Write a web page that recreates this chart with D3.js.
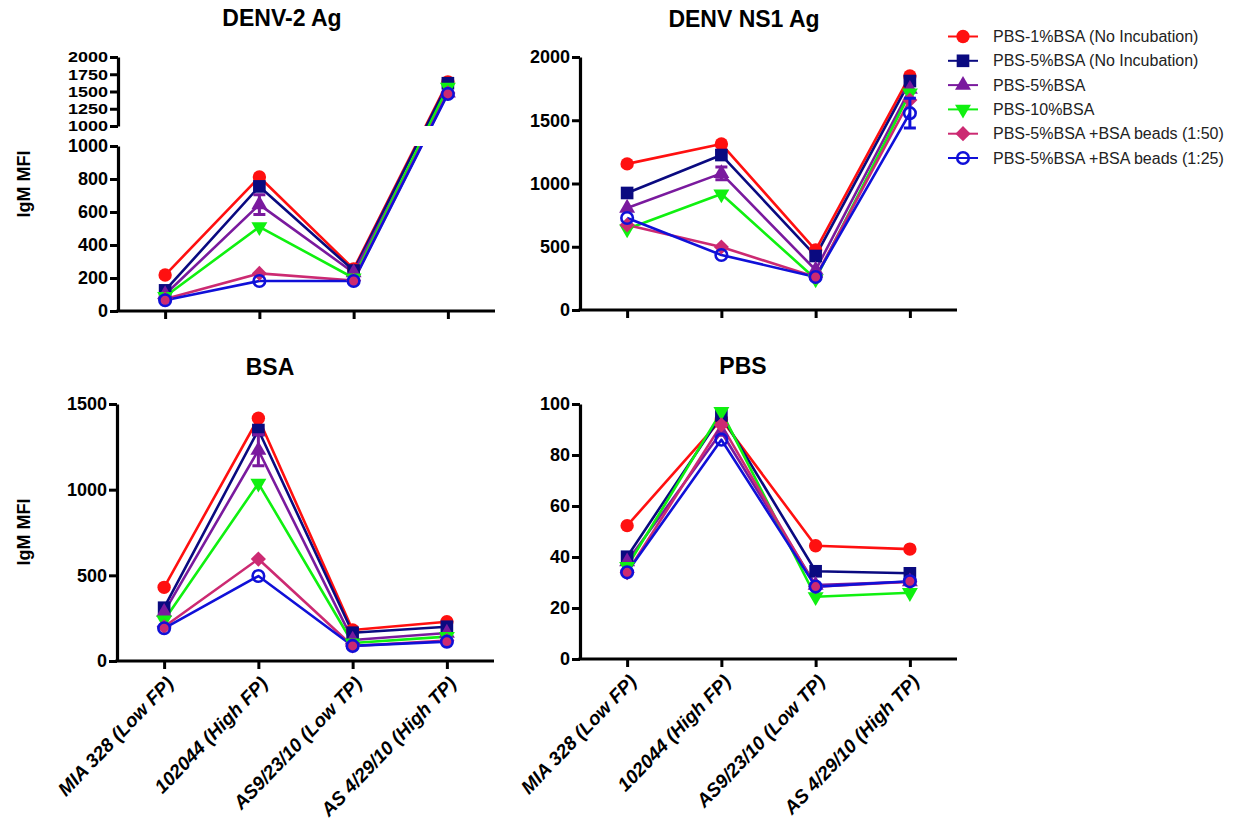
<!DOCTYPE html>
<html><head><meta charset="utf-8">
<script src="https://cdn.jsdelivr.net/npm/d3@7"></script>
<style>
body{margin:0;background:#fff}
svg{display:block}
text{font-family:Arial,"Liberation Sans",sans-serif}
</style>
</head><body>
<svg id="chart" width="1250" height="820"></svg>
<script>
// ---------- data ----------
const categories = ["MIA 328 (Low FP)", "102044 (High FP)", "AS9/23/10 (Low TP)", "AS 4/29/10 (High TP)"];
const seriesNames = ["PBS-1%BSA (No Incubation)", "PBS-5%BSA (No Incubation)", "PBS-5%BSA", "PBS-10%BSA", "PBS-5%BSA +BSA beads (1:50)", "PBS-5%BSA +BSA beads (1:25)"];
const seriesColors = ["#ff1010", "#0a0a80", "#7a1a9e", "#10f010", "#cc2a72", "#1010d8"];
const seriesSymbols = ["circle", "square", "triangleUp", "triangleDown", "diamond", "openCircle"];

const panelTitles = ["DENV-2 Ag", "DENV NS1 Ag", "BSA", "PBS"];

// values per series (rows) x category (cols)
const denv2Values = [
  [218, 812, 255, 1640],
  [125, 755, 245, 1620],
  [100, 645, 232, 1480],
  [ 88, 510, 200, 1560],
  [ 72, 228, 185, 1480],
  [ 65, 182, 182, 1465]
];
const denv2Errors = [
  [0, 0, 0, 0], [0, 0, 0, 0], [0, 60, 0, 0], [0, 0, 0, 0], [0, 0, 0, 0], [0, 0, 0, 0]
];
const ns1Values = [
  [1155, 1312, 474, 1850],
  [ 925, 1225, 427, 1810],
  [ 806, 1080, 316, 1745],
  [ 640,  917, 245, 1715],
  [ 672,  498, 261, 1660],
  [ 727,  435, 261, 1556]
];
const ns1Errors = [
  [0, 0, 0, 0], [0, 0, 0, 0], [0, 50, 0, 0], [0, 0, 0, 0], [0, 0, 0, 0], [0, 0, 0, 118]
];
const bsaValues = [
  [430, 1417, 181, 229],
  [311, 1348, 165, 200],
  [285, 1230, 123, 163],
  [238, 1037, 105, 142],
  [200,  595,  88, 119],
  [191,  496,  88, 113]
];
const bsaErrors = [
  [0, 0, 0, 0], [0, 0, 0, 0], [0, 90, 0, 0], [0, 0, 0, 0], [0, 0, 0, 0], [0, 0, 0, 0]
];
const pbsValues = [
  [52.3, 94.0, 44.4, 43.1],
  [40.1, 95.5, 34.4, 33.6],
  [38.2, 89.0, 29.0, 30.3],
  [36.2, 97.0, 24.4, 26.0],
  [33.9, 91.8, 28.4, 30.3],
  [34.0, 86.0, 28.4, 30.5]
];
const pbsErrors = [
  [0, 0, 0, 0], [0, 0, 0, 0], [0, 0, 0, 0], [0, 0, 0, 0], [0, 0, 0, 0], [0, 0, 0, 0]
];

const denv2LowerTicks = [0, 200, 400, 600, 800, 1000];
const denv2UpperTicks = [1000, 1250, 1500, 1750, 2000];
const ns1Ticks = [0, 500, 1000, 1500, 2000];
const bsaTicks = [0, 500, 1000, 1500];
const pbsTicks = [0, 20, 40, 60, 80, 100];
const yAxisLabel = "IgM MFI";

// ---------- drawing ----------
const svg = d3.select("#chart");

function symbolPath(kind) {
  switch (kind) {
    case "circle": return d3.symbol(d3.symbolCircle, 140)();
    case "square": return d3.symbol(d3.symbolSquare, 160)();
    case "triangleUp": return d3.symbol(d3.symbolTriangle, 110)();
    case "triangleDown": return d3.symbol(d3.symbolTriangle, 110)();
    case "diamond": return d3.symbol(d3.symbolSquare, 115)();
    case "openCircle": return d3.symbol(d3.symbolCircle, 105)();
  }
}
function symbolRotate(kind) {
  if (kind === "triangleDown") return 180;
  if (kind === "diamond") return 45;
  return 0;
}
function drawMarker(g, kind, color, x, y) {
  const p = g.append("path")
    .attr("d", symbolPath(kind))
    .attr("transform", `translate(${x},${y}) rotate(${symbolRotate(kind)})`);
  if (kind === "openCircle") {
    p.attr("fill", "none").attr("stroke", color).attr("stroke-width", 2.6);
  } else {
    p.attr("fill", color);
  }
}

function styleAxis(g, fontSize) {
  g.select(".domain").attr("stroke", "#000").attr("stroke-width", 3.2);
  g.selectAll(".tick line").attr("stroke", "#000").attr("stroke-width", 3);
  g.selectAll(".tick text")
    .attr("fill", "#000")
    .style("font-size", (fontSize || 18) + "px")
    .style("font-weight", "bold");
}

function drawPanel(opt) {
  const g = svg.append("g");
  const x = d3.scalePoint().domain(categories).range([opt.x0, opt.x1]).padding(0.5);

  // y mapping
  let yPos, segments;
  if (opt.broken) {
    const lower = d3.scaleLinear().domain([0, 1000]).range([opt.yBottom, opt.lowerTop]);
    const upper = d3.scaleLinear().domain([1000, 2000]).range([opt.upperBottom, opt.yTop]);
    yPos = v => (v <= 1000 ? lower(v) : upper(v));
    segments = [{scale: lower, ticks: opt.lowerTicks}, {scale: upper, ticks: opt.upperTicks, compact: true}];
  } else {
    const s = d3.scaleLinear().domain(opt.domain).range([opt.yBottom, opt.yTop]);
    yPos = v => s(v);
    segments = [{scale: s, ticks: opt.ticks}];
  }

  // y axes
  segments.forEach(seg => {
    const ax = g.append("g")
      .attr("transform", `translate(${opt.x0},0)`)
      .call(d3.axisLeft(seg.scale).tickValues(seg.ticks).tickFormat(d3.format("d"))
        .tickSize(8).tickSizeOuter(0).tickPadding(2));
    styleAxis(ax, seg.compact ? 15 : 18);
    if (seg.compact) {
      ax.selectAll(".tick text").attr("textLength", 40).attr("lengthAdjust", "spacingAndGlyphs");
    }
  });

  // x axis
  const xa = g.append("g")
    .attr("transform", `translate(0,${opt.yBottom})`)
    .call(d3.axisBottom(x).tickSize(8).tickSizeOuter(0).tickFormat(""));
  styleAxis(xa);
  xa.select(".domain").attr("d", `M${opt.x0 - 1.6},0H${opt.x1}`);

  // x labels (rotated), only on bottom row
  if (opt.xLabels) {
    categories.forEach(c => {
      g.append("text")
        .attr("transform", `translate(${x(c) + 7},${opt.yBottom + 20}) rotate(-46)`)
        .attr("text-anchor", "end")
        .attr("dominant-baseline", "middle")
        .style("font-size", "19px")
        .style("font-weight", "bold")
        .style("font-style", "italic")
        .text(c);
    });
  }

  // title
  g.append("text")
    .attr("x", opt.titleX).attr("y", opt.titleY)
    .attr("text-anchor", "middle")
    .style("font-size", "23px").style("font-weight", "bold")
    .text(opt.title);

  // y label
  if (opt.yLabelY !== undefined) {
    g.append("text")
      .attr("transform", `translate(30,${opt.yLabelY}) rotate(-90)`)
      .attr("text-anchor", "middle")
      .style("font-size", "18px").style("font-weight", "bold")
      .text(yAxisLabel);
  }

  // clip for broken axis
  const dataG = g.append("g");
  if (opt.broken) {
    const id = "clipBreak";
    const cp = svg.append("defs").append("clipPath").attr("id", id);
    cp.append("rect").attr("x", opt.x0).attr("y", 0).attr("width", opt.x1 - opt.x0 + 30).attr("height", opt.upperBottom);
    cp.append("rect").attr("x", opt.x0).attr("y", opt.lowerTop).attr("width", opt.x1 - opt.x0 + 30).attr("height", opt.yBottom - opt.lowerTop + 10);
    dataG.attr("clip-path", `url(#${id})`);
  }

  const line = d3.line().x((d, i) => x(categories[i])).y(d => yPos(d));
  opt.values.forEach((row, si) => {
    dataG.append("path")
      .datum(row)
      .attr("d", line)
      .attr("fill", "none")
      .attr("stroke", seriesColors[si])
      .attr("stroke-width", 2.6)
      .attr("stroke-linejoin", "round");
  });
  const markG = g.append("g");
  opt.values.forEach((row, si) => {
    row.forEach((v, ci) => {
      const e = opt.errors[si][ci];
      const cx = x(categories[ci]);
      if (e > 0) {
        const y1 = yPos(v - e), y2 = yPos(v + e);
        markG.append("path")
          .attr("d", `M${cx},${y1}V${y2}M${cx - 6},${y1}H${cx + 6}M${cx - 6},${y2}H${cx + 6}`)
          .attr("stroke", seriesColors[si]).attr("stroke-width", 3).attr("fill", "none");
      }
      drawMarker(markG, seriesSymbols[si], seriesColors[si], cx, yPos(v));
    });
  });
}

drawPanel({
  title: panelTitles[0], titleX: 282, titleY: 26,
  x0: 118, x1: 495, yBottom: 311, lowerTop: 146, upperBottom: 126, yTop: 57,
  broken: true, lowerTicks: denv2LowerTicks, upperTicks: denv2UpperTicks,
  values: denv2Values, errors: denv2Errors, yLabelY: 184, xLabels: false
});
drawPanel({
  title: panelTitles[1], titleX: 744, titleY: 27,
  x0: 580, x1: 957, yBottom: 310, yTop: 57, domain: [0, 2000], ticks: ns1Ticks,
  values: ns1Values, errors: ns1Errors, xLabels: false
});
drawPanel({
  title: panelTitles[2], titleX: 270, titleY: 375,
  x0: 117, x1: 494, yBottom: 661, yTop: 404, domain: [0, 1500], ticks: bsaTicks,
  values: bsaValues, errors: bsaErrors, yLabelY: 532, xLabels: true
});
drawPanel({
  title: panelTitles[3], titleX: 743, titleY: 374,
  x0: 580, x1: 957, yBottom: 659, yTop: 404, domain: [0, 100], ticks: pbsTicks,
  values: pbsValues, errors: pbsErrors, xLabels: true
});

// legend
const legend = svg.append("g");
seriesNames.forEach((name, i) => {
  const y = 36.5 + i * 24.3;
  legend.append("line").attr("x1", 948).attr("x2", 978).attr("y1", y).attr("y2", y)
    .attr("stroke", seriesColors[i]).attr("stroke-width", 2);
  drawMarker(legend, seriesSymbols[i], seriesColors[i], 963, y);
  legend.append("text").attr("x", 993).attr("y", y).attr("dominant-baseline", "central")
    .style("font-size", "16px").attr("fill", "#222").text(name);
});
</script>
</body></html>
